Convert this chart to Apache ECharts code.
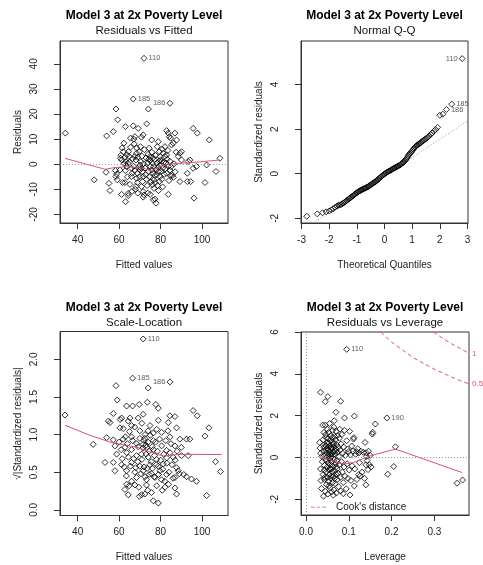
<!DOCTYPE html>
<html>
<head>
<meta charset="utf-8">
<script src="https://cdn.jsdelivr.net/npm/echarts@6/dist/echarts.min.js"></script>
<style>
  html, body { margin: 0; padding: 0; background: #fff; }
  #chart { width: 483px; height: 565px; }
</style>
</head>
<body>
<div id="chart"></div>
<script>
// lm diagnostic plots, 2x2 panel layout
const FONT = '"Liberation Sans", Arial, sans-serif';
const RED = '#DF536B';
const INK = '#222';

const mainTitle = 'Model 3 at 2x Poverty Level';
const panelTitles = ['Residuals vs Fitted', 'Normal Q-Q', 'Scale-Location', 'Residuals vs Leverage'];

// tick labels
const fittedTicks = [40, 60, 80, 100];
const residTicks = [-20, -10, 0, 10, 20, 30, 40];
const qqXTicks = [-3, -2, -1, 0, 1, 2, 3];
const qqYTicks = [-2, 0, 2, 4];
const scaleTicks = [0, 0.5, 1, 1.5, 2];
const levXTicks = [0, 0.1, 0.2, 0.3];
const levYTicks = [-2, 0, 2, 4, 6];

// panel 1: fitted vs residuals
const residFitted = [
  [34.1,12.4],[48.0,-6.2],[53.7,-3.2],[54.0,11.3],[55.1,-7.6],[55.6,-10.5],[57.2,13.0],[58.5,22.0],[59.3,17.7],
  [58.2,-2.5],[58.8,-3.9],[58.5,-4.9],[59.1,-6.2],[60.4,-2.3],[60.9,3.6],[60.7,2.4],[61.2,1.7],[62.0,5.0],
  [62.3,8.4],[62.8,2.8],[63.0,15.0],[63.3,1.1],[63.6,-0.9],[61.7,-7.3],[62.8,-7.3],[61.2,-12.0],[63.1,-14.9],
  [64.4,-11.6],[64.4,-12.5],[64.5,5.0],[64.8,3.1],[65.0,0.8],[64.2,0.4],[65.5,10.4],[66.0,-1.6],[66.3,-3.6],
  [66.0,-4.9],[66.8,15.3],[67.3,8.1],[67.6,11.0],[67.1,10.0],[68.4,4.4],[67.6,3.1],[68.1,1.7],[69.2,14.3],
  [68.8,-3.6],[68.4,-5.6],[68.8,-7.3],[68.1,-8.9],[67.8,-10.0],[69.7,5.0],[70.0,-0.3],[70.8,-1.6],[70.0,-2.3],
  [70.8,10.8],[71.6,11.7],[71.6,-4.9],[71.3,-6.9],[70.8,-8.9],[71.6,-10.9],[72.0,-12.2],[71.6,-13.1],[73.3,16.1],
  [74.1,22.0],[74.0,4.0],[74.8,3.0],[74.3,2.0],[75.0,1.5],[74.5,6.4],[75.7,9.7],[75.2,-0.9],[76.1,0.4],
  [75.7,-2.3],[76.5,-3.6],[76.8,-6.2],[76.1,-8.2],[77.3,-7.3],[76.8,-9.6],[76.5,-14.2],[77.3,-13.9],[77.8,-15.5],
  [78.4,7.0],[78.9,9.0],[79.4,5.0],[79.7,3.1],[80.0,1.7],[80.5,1.1],[78.1,-4.2],[78.9,-2.9],[79.7,-4.9],
  [79.4,-6.9],[81.3,4.4],[82.1,3.1],[82.9,3.7],[82.1,7.0],[82.9,13.4],[83.7,12.4],[84.2,11.0],[84.8,10.4],
  [83.7,-0.9],[84.5,-2.3],[82.9,-3.6],[84.8,-4.6],[83.7,-12.0],[85.3,7.7],[86.1,8.4],[86.9,12.4],[87.7,9.7],
  [88.5,3.1],[89.3,4.4],[90.1,5.0],[90.1,1.7],[89.3,-6.9],[93.3,1.1],[94.1,1.7],[92.9,-3.6],[92.9,-6.9],
  [94.5,-6.9],[95.7,14.3],[97.7,12.4],[95.7,-1.6],[97.3,-0.9],[96.1,-13.5],[101.4,-7.3],[102.2,-0.3],[103.5,9.7],
  [106.7,-2.9],[108.6,2.4],
  [61.5,6.5],[62.5,0.2],[63.8,3.8],[65.5,6.8],[66.5,2.2],[67.0,-0.8],[67.5,-2.5],[68.5,6.5],[69.0,2.8],
  [69.5,-1.2],[69.8,-5.0],[70.3,7.0],[70.5,1.0],[71.0,3.2],[71.2,-3.0],[71.8,0.2],[72.2,5.8],[72.5,-1.5],
  [72.8,-4.2],[73.0,2.5],[73.2,-6.0],[73.5,-8.5],[73.8,0.5],[74.2,-2.8],[74.6,-5.0],[75.4,-7.0],[75.8,4.8],
  [76.3,2.6],[76.6,-1.0],[77.0,1.8],[77.2,-4.5],[77.6,3.5],[77.9,-2.0],[78.2,0.5],[78.6,-8.5],[79.0,-1.2],
  [79.3,1.2],[79.8,-0.2],[80.2,-2.8],[80.6,-6.0],[80.8,6.0],[81.0,-1.5],[81.5,0.8],[81.8,-4.0],[82.3,-1.8],
  [82.6,0.5],[83.2,2.0],[83.5,5.5],[84.0,-6.5],[84.5,1.2],[85.0,-1.0],[85.6,-4.5],[86.2,-5.2],[86.5,0.2],
  [87.0,-3.0],[87.5,4.8],[63.0,-2.5],[64.0,-5.0],[65.2,-8.0],[66.2,-10.8],[69.0,-11.5],[73.8,-11.5],[75.0,-12.0],
  [79.0,-10.5],[81.0,-9.0]
];
const residIds = [[72.0, 42.2, '110', 'right'], [66.8, 26.0, '185', 'right'], [84.5, 24.3, '186', 'left']];
const residSmooth = [[33.9,2.35],[43,0.3],[53.2,-2.0],[58,-1.3],[63.6,-1.0],[68,-1.2],[71.6,-1.6],[75.6,-2.6],[79.7,-1.0],[83.7,0.1],[94.1,0.6],[108.6,1.7]];

// panel 2: normal Q-Q
const qqPoints = [
  [-2.81,-1.91],[-2.43,-1.80],[-2.24,-1.75],[-2.11,-1.71],[-2.00,-1.67],[-1.92,-1.62],[-1.85,-1.57],[-1.78,-1.50],
  [-1.72,-1.45],[-1.67,-1.42],[-1.62,-1.40],[-1.57,-1.38],[-1.53,-1.35],[-1.49,-1.32],[-1.45,-1.28],[-1.41,-1.25],
  [-1.37,-1.21],[-1.34,-1.18],[-1.30,-1.14],[-1.27,-1.11],[-1.24,-1.08],[-1.21,-1.06],[-1.18,-1.03],[-1.15,-1.00],
  [-1.12,-0.97],[-1.09,-0.94],[-1.06,-0.91],[-1.03,-0.88],[-1.00,-0.85],[-0.97,-0.83],[-0.94,-0.80],[-0.91,-0.78],
  [-0.88,-0.76],[-0.85,-0.74],[-0.82,-0.72],[-0.79,-0.70],[-0.76,-0.68],[-0.73,-0.66],[-0.70,-0.65],[-0.67,-0.63],
  [-0.64,-0.61],[-0.61,-0.59],[-0.58,-0.57],[-0.55,-0.54],[-0.52,-0.52],[-0.49,-0.49],[-0.46,-0.47],[-0.43,-0.44],
  [-0.40,-0.41],[-0.37,-0.39],[-0.34,-0.36],[-0.31,-0.34],[-0.28,-0.31],[-0.25,-0.28],[-0.22,-0.25],[-0.19,-0.21],
  [-0.16,-0.18],[-0.13,-0.14],[-0.10,-0.11],[-0.07,-0.08],[-0.04,-0.05],[-0.01,-0.02],
  [0.02,0.01],[0.05,0.03],[0.08,0.06],[0.11,0.08],[0.14,0.10],[0.17,0.12],[0.20,0.14],[0.23,0.16],
  [0.26,0.18],[0.29,0.21],[0.32,0.23],[0.35,0.25],[0.38,0.27],[0.41,0.29],[0.44,0.31],[0.47,0.33],
  [0.50,0.35],[0.53,0.37],[0.56,0.39],[0.59,0.42],[0.62,0.45],[0.65,0.48],[0.68,0.51],[0.71,0.55],
  [0.74,0.59],[0.77,0.63],[0.80,0.68],[0.83,0.74],[0.86,0.80],[0.89,0.86],[0.92,0.91],[0.95,0.95],
  [0.98,0.99],[1.01,1.04],[1.04,1.10],[1.07,1.15],[1.10,1.19],[1.13,1.23],[1.16,1.26],[1.19,1.29],
  [1.22,1.31],[1.25,1.34],[1.28,1.36],[1.31,1.39],[1.34,1.43],[1.38,1.47],[1.42,1.50],[1.46,1.54],
  [1.50,1.57],[1.54,1.61],[1.58,1.65],[1.62,1.70],[1.67,1.76],[1.72,1.82],[1.78,1.90],[1.85,1.98],
  [1.92,2.08],[2.00,2.62],[2.11,2.67]
];
const qqIds = [[2.81, 5.16, '110', 'left'], [2.43, 3.12, '185', 'right'], [2.24, 2.88, '186', 'right']];
const qqLineEnds = [[-2.58, -2.21], [3.02, 2.38]];

// panel 3: scale-location
const scaleLoc = [
  [58.5,1.65],[74.0,1.62],[59.1,1.46],[33.9,1.26],[47.5,0.87],[53.2,0.63],
  [63.6,1.38],[66.5,1.38],[69.7,1.40],[73.6,1.43],[77.7,1.40],[78.9,1.35],[95.7,1.32],[97.7,1.25],[57.2,1.28],
  [54.8,1.18],[55.6,1.16],[61.2,1.22],[65.2,1.22],[64.4,1.18],[69.2,1.22],[71.6,1.27],[84.5,1.25],[86.9,1.24],
  [83.7,1.16],[78.9,1.19],[74.9,1.12],[60.4,1.09],[66.0,1.12],[70.0,1.05],[74.0,1.05],[78.1,1.07],[80.5,1.03],
  [87.7,1.09],[103.3,1.09],[54.0,0.96],[57.2,0.93],[62.0,0.94],[66.0,0.97],[72.4,0.95],[76.5,0.92],[84.5,0.97],
  [89.3,0.94],[101.4,0.98],[58.0,0.85],[62.8,0.83],[66.0,0.80],[69.2,0.84],[71.6,0.87],[73.2,0.83],[76.5,0.80],
  [82.9,0.79],[86.9,0.85],[58.8,0.74],[63.6,0.76],[68.4,0.72],[70.8,0.74],[74.0,0.70],[78.1,0.67],[82.9,0.69],
  [86.1,0.70],[90.1,0.72],[93.3,0.72],[57.2,0.63],[61.2,0.60],[66.0,0.63],[70.0,0.58],[74.9,0.60],[78.9,0.58],
  [81.3,0.61],[87.7,0.56],[58.0,0.52],[63.6,0.52],[67.6,0.50],[71.6,0.52],[75.6,0.48],[79.7,0.52],[82.9,0.47],
  [88.5,0.52],[91.2,0.47],[68.4,0.43],[73.2,0.40],[77.3,0.43],[80.5,0.40],[86.9,0.43],[92.5,0.44],[94.9,0.41],
  [97.3,0.38],[63.6,0.34],[67.6,0.33],[73.2,0.33],[78.1,0.32],[82.1,0.30],[86.9,0.29],[64.4,0.20],[70.8,0.20],
  [72.4,0.21],[75.6,0.23],[87.7,0.21],[102.2,0.19],[76.5,0.12],[78.9,0.09],[106.5,0.64],[108.9,0.51],[94.1,0.94],
  [92.5,0.94],
  [60.0,0.90],[61.0,0.80],[61.5,0.68],[62.0,1.08],[62.5,0.57],[63.0,0.97],[63.5,0.45],[64.0,0.88],[64.5,0.70],
  [65.0,1.04],[65.5,0.58],[66.0,0.38],[66.5,0.92],[67.0,0.68],[67.5,1.10],[68.0,0.56],[68.5,0.88],[69.0,0.64],
  [69.5,0.30],[70.0,0.95],[70.5,0.48],[71.0,1.15],[71.0,0.67],[71.5,0.82],[72.0,0.57],[72.0,0.92],[72.5,0.44],
  [72.5,1.00],[73.0,0.74],[73.0,0.86],[73.5,0.55],[74.0,0.90],[74.5,0.47],[74.5,0.78],[75.0,0.99],[75.5,0.64],
  [76.0,0.84],[76.0,0.55],[76.5,1.02],[77.0,0.72],[77.0,0.44],[77.5,0.90],[78.0,0.60],[78.5,0.78],[79.0,0.47],
  [79.5,0.94],[80.0,0.66],[80.5,0.85],[81.0,0.54],[81.5,0.74],[82.0,0.38],[82.5,0.92],[83.0,0.62],[83.5,1.05],
  [84.0,0.50],[84.5,0.76],[85.0,0.88],[85.5,0.60],[86.0,0.42],[87.0,0.66],[88.0,0.78],[89.0,0.48],[90.0,0.83],
  [60.5,1.20],[62.8,0.27],[64.8,0.32],[69.8,0.18],[73.8,0.26],[80.8,0.26],[83.8,0.34]
];
const scaleIds = [[71.6, 2.27, '110', 'right'], [66.5, 1.75, '185', 'right'], [84.5, 1.70, '186', 'left']];
const scaleSmooth = [[33.9,1.125],[45,1.0],[56.4,0.893],[63,0.86],[69.2,0.827],[74,0.78],[78.1,0.738],[81.3,0.716],[89.3,0.738],[109.4,0.735]];

// panel 4: leverage vs standardized residuals
const leverage = [
  [0.034,3.12],[0.051,2.91],[0.045,2.67],[0.081,2.69],[0.070,2.16],[0.090,1.89],[0.113,1.98],[0.066,1.76],[0.162,1.60],
  [0.156,1.20],[0.155,1.12],[0.138,0.72],[0.111,0.88],[0.118,0.28],[0.124,0.22],[0.141,0.22],[0.141,0.05],
  [0.143,-0.15],[0.140,-0.35],[0.145,-0.58],[0.127,-0.88],[0.123,-0.82],[0.113,-1.36],[0.140,-1.31],[0.103,-1.79],
  [0.087,-1.73],[0.209,0.51],[0.205,-0.43],[0.191,-0.80],[0.353,-1.23],[0.366,-1.08],
  [0.032,0.72],[0.033,0.45],[0.034,-0.55],[0.035,-1.10],[0.036,-1.48],[0.034,0.20],[0.037,0.05],[0.038,-0.20],
  [0.039,1.55],[0.040,0.85],[0.040,-0.82],[0.041,-1.85],[0.042,0.48],[0.042,1.20],[0.043,-0.38],[0.043,-1.05],
  [0.044,0.10],[0.044,0.62],[0.045,-1.62],[0.045,1.55],[0.046,-0.12],[0.046,0.35],[0.047,-0.70],[0.047,0.95],
  [0.048,-1.30],[0.048,0.22],
  [0.049,-0.45],[0.049,0.70],[0.050,-0.95],[0.050,0.05],[0.050,1.35],[0.051,-1.75],[0.051,0.42],[0.052,-0.25],
  [0.052,0.90],[0.053,-0.60],[0.053,1.20],[0.053,-1.15],[0.054,0.15],[0.054,-0.05],[0.055,0.55],[0.055,-0.80],
  [0.055,1.62],[0.056,-1.45],[0.056,0.30],[0.057,-0.35],[0.057,0.80],[0.058,-1.00],[0.058,0.00],[0.058,1.05],
  [0.059,-0.55],[0.059,0.45],[0.060,-1.65],[0.060,0.18],[0.060,-0.20],[0.061,0.62],[0.061,-0.70],[0.062,1.30],
  [0.062,-1.20],[0.062,0.10],
  [0.063,-0.40],[0.063,0.75],[0.064,-0.90],[0.064,0.28],[0.065,1.45],[0.065,-1.55],[0.066,-0.10],[0.066,0.50],
  [0.067,-0.65],[0.067,1.00],[0.068,-1.25],[0.068,0.15],[0.069,-0.30],[0.069,0.85],[0.070,-0.80],[0.070,0.40],
  [0.071,-1.70],[0.071,1.25],[0.072,-0.15],[0.072,0.60],[0.073,-0.55],[0.073,-1.05],[0.074,0.25],[0.074,1.05],
  [0.075,-0.75],[0.075,0.48],
  [0.076,-1.40],[0.077,0.05],[0.078,0.92],[0.078,-0.35],[0.079,1.35],[0.080,-0.95],[0.080,0.35],[0.081,-1.60],
  [0.082,0.65],[0.083,-0.20],[0.084,1.10],[0.085,-0.70],[0.086,0.20],[0.087,-1.20],[0.088,0.50],[0.089,-0.45],
  [0.090,1.30],[0.091,-0.90],[0.092,0.10],[0.094,-1.50],[0.095,0.80],[0.096,-0.30],[0.097,0.40],[0.098,-1.00],
  [0.100,0.28],[0.101,-0.60],[0.102,1.25],[0.104,0.12],[0.105,-1.10],[0.107,0.55],[0.108,-0.40],[0.110,0.30],
  [0.112,0.95],[0.114,-0.55],[0.116,0.15],[0.119,-1.05],[0.121,0.42],[0.125,-0.25],[0.128,0.30],[0.131,-0.70],
  [0.134,0.25],[0.137,-1.00],[0.146,0.30],[0.148,-0.35],[0.150,0.10],[0.152,-0.45],
  [0.041,0.30],[0.043,-0.60],[0.046,1.10],[0.049,-0.15],[0.052,0.35],[0.054,-1.35],[0.057,0.10],[0.059,-0.90],
  [0.061,0.95],[0.063,-0.05],[0.065,0.65],[0.067,-1.00],[0.069,0.30],[0.071,-0.45],[0.044,-0.95],[0.047,0.55],
  [0.053,0.68],[0.056,-0.50],[0.060,0.42],[0.064,-1.80]
];
const leverageIds = [[0.095, 5.17, '110', 'right'], [0.189, 1.89, '190', 'right']];
const leverageSmooth = [[0.034,0.03],[0.064,-0.16],[0.087,-0.32],[0.111,-0.24],[0.15,0.08],[0.209,0.40],[0.365,-0.72]];
const cookHalf = [[0.175,6.0],[0.2,5.52],[0.25,4.78],[0.3,4.22],[0.35,3.76],[0.381,3.52]];
const cookOne = [[0.298,6.0],[0.32,5.69],[0.34,5.44],[0.36,5.22],[0.381,4.98]];

const chart = echarts.init(document.getElementById('chart'));

const grids = [
  { left: 60, top: 41, width: 168, height: 182 },
  { left: 301, top: 41, width: 167, height: 182 },
  { left: 60, top: 331.5, width: 168, height: 184 },
  { left: 301, top: 332, width: 168, height: 183 },
].map((g) => ({ ...g, show: true, borderColor: '#333', borderWidth: 1, backgroundColor: 'transparent' }));

function xAxis(i, min, max, ticks, name, fmt) {
  return {
    type: 'value', gridIndex: i, min, max, name,
    nameLocation: 'middle', nameGap: 37,
    nameTextStyle: { fontSize: 10, color: INK, fontFamily: FONT },
    axisLine: { show: true, onZero: false, lineStyle: { color: '#333' } },
    splitLine: { show: false },
    axisTick: { show: true, length: 6, customValues: ticks, lineStyle: { color: '#333' } },
    axisLabel: { customValues: ticks, formatter: fmt, margin: 12, fontSize: 10, color: INK, fontFamily: FONT },
  };
}

function yAxis(i, min, max, ticks, name, fmt) {
  return {
    type: 'value', gridIndex: i, min, max, name,
    nameLocation: 'middle', nameGap: 37,
    nameTextStyle: { fontSize: 10, color: INK, fontFamily: FONT },
    axisLine: { show: true, onZero: false, lineStyle: { color: '#333' } },
    splitLine: { show: false },
    axisTick: { show: true, length: 6, customValues: ticks, lineStyle: { color: '#333' } },
    axisLabel: { customValues: ticks, formatter: fmt, rotate: 90, margin: 21, fontSize: 10, color: INK, fontFamily: FONT },
  };
}

const plain = (v) => String(v);
const oneDec = (v) => v.toFixed(1);

const pointStyle = { color: 'transparent', borderColor: '#000', borderWidth: 1 };

function points(i, data) {
  return {
    type: 'scatter', xAxisIndex: i, yAxisIndex: i, data,
    symbol: 'diamond', symbolSize: 6, silent: true, z: 3,
    itemStyle: pointStyle,
  };
}

function idPoints(i, ids) {
  return {
    type: 'scatter', xAxisIndex: i, yAxisIndex: i, symbol: 'diamond', symbolSize: 6, silent: true, z: 3,
    itemStyle: pointStyle,
    label: { fontSize: 7.5, color: '#333', distance: 1, fontFamily: FONT },
    data: ids.map(([x, y, id, side]) => ({ value: [x, y], label: { show: true, position: side, formatter: id } })),
  };
}

function smooth(i, data) {
  return {
    type: 'line', xAxisIndex: i, yAxisIndex: i, data, symbol: 'none', silent: true, z: 4,
    lineStyle: { color: RED, width: 1 },
  };
}

const dotted = { color: '#999', type: [1, 2], width: 1 };

const option = {
  animation: false,
  backgroundColor: '#fff',
  title: panelTitles.map((sub, i) => ({
    text: mainTitle,
    subtext: sub,
    left: [144, 384.5, 144, 385][i],
    top: [10, 10, 301.5, 301.5][i],
    textAlign: 'center',
    padding: 0,
    itemGap: 3,
    textStyle: { fontSize: 12, fontWeight: 'bold', color: '#000', fontFamily: FONT },
    subtextStyle: { fontSize: 11.5, color: '#111', fontFamily: FONT },
  })),
  legend: {
    data: [{ name: "Cook's distance", icon: 'path://M0,0h5v1h-5zM7.5,0h5v1h-5zM15,0h5v1h-5z' }],
    left: 306, top: 497,
    itemWidth: 15, itemHeight: 1,
    selectedMode: false,
    textStyle: { fontSize: 10, color: INK, fontFamily: FONT, padding: [0, 0, 0, 5] },
  },
  grid: grids,
  xAxis: [
    xAxis(0, 31.5, 112.5, fittedTicks, 'Fitted values', plain),
    xAxis(1, -3.02, 3.02, qqXTicks, 'Theoretical Quantiles', plain),
    xAxis(2, 31.5, 112.5, fittedTicks, 'Fitted values', plain),
    xAxis(3, -0.0117, 0.381, levXTicks, 'Leverage', oneDec),
  ],
  yAxis: [
    yAxis(0, -23.4, 49.1, residTicks, 'Residuals', plain),
    yAxis(1, -2.21, 5.95, qqYTicks, 'Standardized residuals', plain),
    yAxis(2, -0.075, 2.37, scaleTicks, '√|Standardized residuals|', oneDec),
    yAxis(3, -2.75, 6.0, levYTicks, 'Standardized residuals', plain),
  ],
  series: [
    {
      ...points(0, residFitted),
      markLine: { silent: true, symbol: 'none', label: { show: false }, lineStyle: dotted, data: [{ yAxis: 0 }] },
    },
    idPoints(0, residIds),
    smooth(0, residSmooth),

    points(1, qqPoints),
    idPoints(1, qqIds),
    {
      type: 'line', xAxisIndex: 1, yAxisIndex: 1, data: qqLineEnds, symbol: 'none', silent: true, z: 2,
      lineStyle: dotted,
    },

    points(2, scaleLoc),
    idPoints(2, scaleIds),
    smooth(2, scaleSmooth),

    {
      ...points(3, leverage),
      markLine: { silent: true, symbol: 'none', label: { show: false }, lineStyle: dotted, data: [{ yAxis: 0 }, { xAxis: 0 }] },
    },
    idPoints(3, leverageIds),
    smooth(3, leverageSmooth),
    {
      type: 'line', name: "Cook's distance", xAxisIndex: 3, yAxisIndex: 3, data: cookHalf, symbol: 'none', silent: true,
      lineStyle: { color: RED, type: [4, 3], width: 1 },
      itemStyle: { color: RED },
      endLabel: { show: true, formatter: '0.5', color: RED, fontSize: 8, distance: 3, fontFamily: FONT },
    },
    {
      type: 'line', name: "Cook's distance", xAxisIndex: 3, yAxisIndex: 3, data: cookOne, symbol: 'none', silent: true,
      lineStyle: { color: RED, type: [4, 3], width: 1 },
      itemStyle: { color: RED },
      endLabel: { show: true, formatter: '1', color: RED, fontSize: 8, distance: 3, fontFamily: FONT },
    },
  ],
};

chart.setOption(option);
</script>
</body>
</html>
